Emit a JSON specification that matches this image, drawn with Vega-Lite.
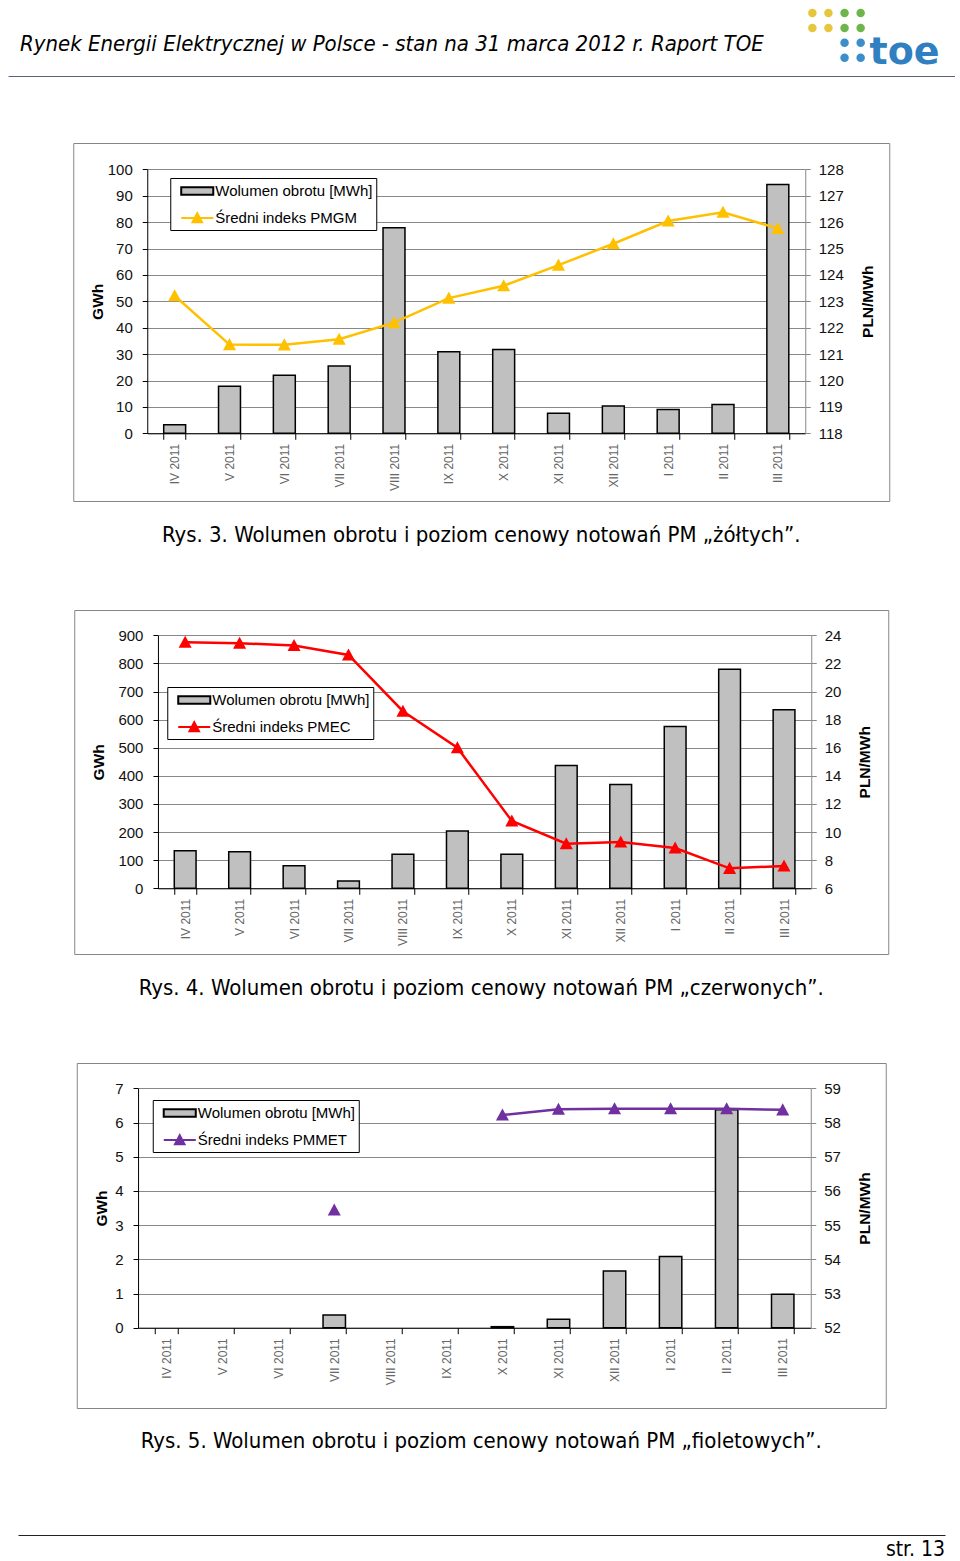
{
"$schema": "https://vega.github.io/schema/vega-lite/v6.json",
"background": "white",
"padding": {"left": 8, "top": 8, "right": 0, "bottom": 0},
"spacing": 62,
"center": true,
"resolve": {"scale": {"fill": "independent", "stroke": "independent", "shape": "independent", "color": "independent"}, "legend": {"fill": "independent", "stroke": "independent", "shape": "independent", "color": "independent"}},
"datasets": {
"d1": [
{"m": "IV 2011", "vol": 3.2, "price": 123.21},
{"m": "V 2011", "vol": 17.8, "price": 121.36},
{"m": "VI 2011", "vol": 22.0, "price": 121.35},
{"m": "VII 2011", "vol": 25.5, "price": 121.56},
{"m": "VIII 2011", "vol": 77.9, "price": 122.19},
{"m": "IX 2011", "vol": 30.9, "price": 123.12},
{"m": "X 2011", "vol": 31.7, "price": 123.59},
{"m": "XI 2011", "vol": 7.6, "price": 124.37},
{"m": "XII 2011", "vol": 10.3, "price": 125.18},
{"m": "I 2011", "vol": 9.0, "price": 126.04},
{"m": "II 2011", "vol": 10.9, "price": 126.37},
{"m": "III 2011", "vol": 94.2, "price": 125.76}
],
"d2": [
{"m": "IV 2011", "vol": 134, "price": 23.5},
{"m": "V 2011", "vol": 130, "price": 23.43},
{"m": "VI 2011", "vol": 80, "price": 23.28},
{"m": "VII 2011", "vol": 26, "price": 22.6},
{"m": "VIII 2011", "vol": 121, "price": 18.6},
{"m": "IX 2011", "vol": 204, "price": 16.0},
{"m": "X 2011", "vol": 121, "price": 10.79},
{"m": "XI 2011", "vol": 437, "price": 9.17},
{"m": "XII 2011", "vol": 369, "price": 9.29},
{"m": "I 2011", "vol": 576, "price": 8.87},
{"m": "II 2011", "vol": 779, "price": 7.42},
{"m": "III 2011", "vol": 635, "price": 7.59}
],
"d3": [
{"m": "IV 2011", "vol": null, "price": null},
{"m": "V 2011", "vol": null, "price": null},
{"m": "VI 2011", "vol": null, "price": null},
{"m": "VII 2011", "vol": 0.37, "price": 55.44},
{"m": "VIII 2011", "vol": null, "price": null},
{"m": "IX 2011", "vol": null, "price": null},
{"m": "X 2011", "vol": 0.03, "price": 58.22},
{"m": "XI 2011", "vol": 0.25, "price": 58.39},
{"m": "XII 2011", "vol": 1.66, "price": 58.40},
{"m": "I 2011", "vol": 2.08, "price": 58.40},
{"m": "II 2011", "vol": 6.37, "price": 58.40},
{"m": "III 2011", "vol": 0.98, "price": 58.37}
],
"logo": [
{"c": 1, "r": 1, "g": "y"}, {"c": 2, "r": 1, "g": "y"}, {"c": 3, "r": 1, "g": "g"}, {"c": 4, "r": 1, "g": "g"},
{"c": 1, "r": 2, "g": "y"}, {"c": 2, "r": 2, "g": "y"}, {"c": 3, "r": 2, "g": "g"}, {"c": 4, "r": 2, "g": "g"},
{"c": 3, "r": 3, "g": "b"}, {"c": 4, "r": 3, "g": "b"},
{"c": 3, "r": 4, "g": "b"}, {"c": 4, "r": 4, "g": "b"}
]
},
"vconcat": [
{
"width": 947, "height": 71,
"view": {"stroke": null},
"title": {"text": "Rynek Energii Elektrycznej w Polsce - stan na 31 marca 2012 r. Raport TOE", "orient": "top", "anchor": "start", "frame": "group", "offset": 0, "dx": 12, "dy": 64, "baseline": "alphabetic", "font": "DejaVu Sans Condensed, Liberation Sans Narrow, DejaVu Sans", "fontStyle": "italic", "fontWeight": "normal", "fontSize": 22, "color": "#000"},
"layer": [
{"data": {"name": "logo"},
"mark": {"type": "circle", "size": 72, "opacity": 1},
"encoding": {
"x": {"field": "c", "type": "quantitative", "scale": {"domain": [-48.96, 9.86], "nice": false, "zero": false}, "axis": {"orient": "bottom", "offset": -4, "labels": false, "ticks": false, "grid": false, "title": null, "domainColor": "#5b6178", "domainWidth": 1}},
"y": {"field": "r", "type": "quantitative", "scale": {"domain": [0.732, 5.497], "reverse": true, "nice": false, "zero": false}, "axis": null},
"color": {"field": "g", "type": "nominal", "scale": {"domain": ["y", "g", "b"], "range": ["#E6C63C", "#6DB54C", "#3C8DCB"]}, "legend": null}
}},
{"data": {"values": [{"label": "toe"}]},
"mark": {"type": "text", "align": "left", "baseline": "alphabetic", "font": "DejaVu Sans", "fontWeight": "bold", "fontSize": 38, "color": "#2F7FC1"},
"encoding": {
"text": {"field": "label"},
"x": {"datum": 4.55, "type": "quantitative"},
"y": {"datum": 4.45, "type": "quantitative"}
}}
]
},
{
"width": 816, "height": 358,
"title": {"text": "Rys. 3. Wolumen obrotu i poziom cenowy notowań PM „żółtych”.", "orient": "bottom", "anchor": "middle", "offset": 24},
"data": {"name": "d1"},
"resolve": {"scale": {"y": "independent"}},
"encoding": {
"x": {"field": "m", "type": "nominal", "sort": null,
"scale": {"domain": ["IV 2011", "V 2011", "VI 2011", "VII 2011", "VIII 2011", "IX 2011", "X 2011", "XI 2011", "XII 2011", "I 2011", "II 2011", "III 2011"], "range": [74, 732], "paddingInner": 0.6, "paddingOuter": 0.3},
"axis": {"offset": -67.7, "title": null, "labelAngle": -90, "tickBand": "extent", "grid": false}}
},
"layer": [
{"mark": {"type": "bar", "fill": "#C0C0C0", "stroke": "#000", "strokeWidth": 1.5},
"encoding": {"y": {"field": "vol", "type": "quantitative",
"scale": {"domain": [0, 100], "range": [290.3, 26.3], "nice": false},
"axis": {"orient": "left", "offset": -74, "values": [0, 10, 20, 30, 40, 50, 60, 70, 80, 90, 100], "grid": true, "title": "GWh", "titlePadding": 2}}}},
{"mark": {"type": "line", "color": "#FFC000", "strokeWidth": 2.5, "point": {"filled": true, "color": "#FFC000", "shape": "M0,-1L1,0.85L-1,0.85Z", "size": 170, "opacity": 1}},
"encoding": {"y": {"field": "price", "type": "quantitative",
"scale": {"domain": [118, 128], "range": [290.3, 26.3], "nice": false, "zero": false},
"axis": {"orient": "right", "offset": -84, "values": [118, 119, 120, 121, 122, 123, 124, 125, 126, 127, 128], "grid": false, "title": "PLN/MWh", "titleAngle": 270, "titlePadding": 32, "domainColor": "#868686", "tickColor": "#868686", "labelPadding": 8}}}},
{"data": {"values": []},
"mark": {"type": "point", "filled": true, "opacity": 1},
"encoding": {
"fill": {"field": "s1", "type": "nominal", "scale": {"domain": ["Wolumen obrotu [MWh]", "Średni indeks PMGM"], "range": ["#C0C0C0", "#FFC000"]},
"legend": {"orient": "none", "legendX": 97, "legendY": 35, "title": null, "direction": "vertical", "fillColor": "#fff", "strokeColor": "#000", "padding": 3, "symbolSize": 324, "symbolOffset": 14, "symbolStrokeWidth": 2, "labelOffset": 8, "rowPadding": 9}},
"stroke": {"field": "s1", "type": "nominal", "scale": {"domain": ["Wolumen obrotu [MWh]", "Średni indeks PMGM"], "range": ["#000000", "#FFC000"]},
"legend": {"orient": "none", "legendX": 97, "legendY": 35, "title": null, "direction": "vertical", "fillColor": "#fff", "strokeColor": "#000", "padding": 3, "symbolSize": 324, "symbolOffset": 14, "symbolStrokeWidth": 2, "labelOffset": 8, "rowPadding": 9}},
"shape": {"field": "s1", "type": "nominal", "scale": {"domain": ["Wolumen obrotu [MWh]", "Średni indeks PMGM"], "range": ["M-1.78,-0.41H1.78V0.41H-1.78Z", "M-1.78,0H1.78M0,-0.53L0.53,0.48H-0.53Z"]},
"legend": {"orient": "none", "legendX": 97, "legendY": 35, "title": null, "direction": "vertical", "fillColor": "#fff", "strokeColor": "#000", "padding": 3, "symbolSize": 324, "symbolOffset": 14, "symbolStrokeWidth": 2, "labelOffset": 8, "rowPadding": 9}}
}}
]
},
{
"width": 814, "height": 344,
"title": {"text": "Rys. 4. Wolumen obrotu i poziom cenowy notowań PM „czerwonych”.", "orient": "bottom", "anchor": "middle", "offset": 24},
"data": {"name": "d2"},
"resolve": {"scale": {"y": "independent"}},
"encoding": {
"x": {"field": "m", "type": "nominal", "sort": null,
"scale": {"domain": ["IV 2011", "V 2011", "VI 2011", "VII 2011", "VIII 2011", "IX 2011", "X 2011", "XI 2011", "XII 2011", "I 2011", "II 2011", "III 2011"], "range": [83.7, 737], "paddingInner": 0.6, "paddingOuter": 0.3},
"axis": {"offset": -65.7, "title": null, "labelAngle": -90, "tickBand": "extent", "grid": false}}
},
"layer": [
{"mark": {"type": "bar", "fill": "#C0C0C0", "stroke": "#000", "strokeWidth": 1.5},
"encoding": {"y": {"field": "vol", "type": "quantitative",
"scale": {"domain": [0, 900], "range": [278.3, 25.3], "nice": false},
"axis": {"orient": "left", "offset": -83.7, "values": [0, 100, 200, 300, 400, 500, 600, 700, 800, 900], "grid": true, "title": "GWh", "titlePadding": 11}}}},
{"mark": {"type": "line", "color": "#FF0000", "strokeWidth": 2.5, "point": {"filled": true, "color": "#FF0000", "shape": "M0,-1L1,0.85L-1,0.85Z", "size": 170, "opacity": 1}},
"encoding": {"y": {"field": "price", "type": "quantitative",
"scale": {"domain": [6, 24], "range": [278.3, 25.3], "nice": false, "zero": false},
"axis": {"orient": "right", "offset": -77, "values": [6, 8, 10, 12, 14, 16, 18, 20, 22, 24], "grid": false, "title": "PLN/MWh", "titleAngle": 270, "titlePadding": 32, "domainColor": "#868686", "tickColor": "#868686", "labelPadding": 8}}}},
{"data": {"values": []},
"mark": {"type": "point", "filled": true, "opacity": 1},
"encoding": {
"fill": {"field": "s2", "type": "nominal", "scale": {"domain": ["Wolumen obrotu [MWh]", "Średni indeks PMEC"], "range": ["#C0C0C0", "#FF0000"]},
"legend": {"orient": "none", "legendX": 93, "legendY": 77, "title": null, "direction": "vertical", "fillColor": "#fff", "strokeColor": "#000", "padding": 3, "symbolSize": 324, "symbolOffset": 14, "symbolStrokeWidth": 2, "labelOffset": 8, "rowPadding": 9}},
"stroke": {"field": "s2", "type": "nominal", "scale": {"domain": ["Wolumen obrotu [MWh]", "Średni indeks PMEC"], "range": ["#000000", "#FF0000"]},
"legend": {"orient": "none", "legendX": 93, "legendY": 77, "title": null, "direction": "vertical", "fillColor": "#fff", "strokeColor": "#000", "padding": 3, "symbolSize": 324, "symbolOffset": 14, "symbolStrokeWidth": 2, "labelOffset": 8, "rowPadding": 9}},
"shape": {"field": "s2", "type": "nominal", "scale": {"domain": ["Wolumen obrotu [MWh]", "Średni indeks PMEC"], "range": ["M-1.78,-0.41H1.78V0.41H-1.78Z", "M-1.78,0H1.78M0,-0.53L0.53,0.48H-0.53Z"]},
"legend": {"orient": "none", "legendX": 93, "legendY": 77, "title": null, "direction": "vertical", "fillColor": "#fff", "strokeColor": "#000", "padding": 3, "symbolSize": 324, "symbolOffset": 14, "symbolStrokeWidth": 2, "labelOffset": 8, "rowPadding": 9}}
}}
]
},
{
"width": 809, "height": 345,
"title": {"text": "Rys. 5. Wolumen obrotu i poziom cenowy notowań PM „fioletowych”.", "orient": "bottom", "anchor": "middle", "offset": 23},
"data": {"name": "d3"},
"resolve": {"scale": {"y": "independent"}},
"encoding": {
"x": {"field": "m", "type": "nominal", "sort": null,
"scale": {"domain": ["IV 2011", "V 2011", "VI 2011", "VII 2011", "VIII 2011", "IX 2011", "X 2011", "XI 2011", "XII 2011", "I 2011", "II 2011", "III 2011"], "range": [61.3, 734], "paddingInner": 0.6, "paddingOuter": 0.3},
"axis": {"offset": -80.3, "title": null, "labelAngle": -90, "tickBand": "extent", "grid": false}}
},
"layer": [
{"mark": {"type": "bar", "fill": "#C0C0C0", "stroke": "#000", "strokeWidth": 1.5},
"encoding": {"y": {"field": "vol", "type": "quantitative",
"scale": {"domain": [0, 7], "range": [264.7, 25.3], "nice": false},
"axis": {"orient": "left", "offset": -61.3, "values": [0, 1, 2, 3, 4, 5, 6, 7], "grid": true, "title": "GWh", "titlePadding": 5}}}},
{"mark": {"type": "line", "color": "#7030A0", "strokeWidth": 2.5, "invalid": "break-paths-filter-domains", "point": {"filled": true, "color": "#7030A0", "shape": "M0,-1L1,0.85L-1,0.85Z", "size": 170, "opacity": 1}},
"encoding": {"y": {"field": "price", "type": "quantitative",
"scale": {"domain": [52, 59], "range": [264.7, 25.3], "nice": false, "zero": false},
"axis": {"orient": "right", "offset": -75, "values": [52, 53, 54, 55, 56, 57, 58, 59], "grid": false, "title": "PLN/MWh", "titleAngle": 270, "titlePadding": 32, "domainColor": "#868686", "tickColor": "#868686", "labelPadding": 8}}}},
{"data": {"values": []},
"mark": {"type": "point", "filled": true, "opacity": 1},
"encoding": {
"fill": {"field": "s3", "type": "nominal", "scale": {"domain": ["Wolumen obrotu [MWh]", "Średni indeks PMMET"], "range": ["#C0C0C0", "#7030A0"]},
"legend": {"orient": "none", "legendX": 76, "legendY": 37, "title": null, "direction": "vertical", "fillColor": "#fff", "strokeColor": "#000", "padding": 3, "symbolSize": 324, "symbolOffset": 14, "symbolStrokeWidth": 2, "labelOffset": 8, "rowPadding": 9}},
"stroke": {"field": "s3", "type": "nominal", "scale": {"domain": ["Wolumen obrotu [MWh]", "Średni indeks PMMET"], "range": ["#000000", "#7030A0"]},
"legend": {"orient": "none", "legendX": 76, "legendY": 37, "title": null, "direction": "vertical", "fillColor": "#fff", "strokeColor": "#000", "padding": 3, "symbolSize": 324, "symbolOffset": 14, "symbolStrokeWidth": 2, "labelOffset": 8, "rowPadding": 9}},
"shape": {"field": "s3", "type": "nominal", "scale": {"domain": ["Wolumen obrotu [MWh]", "Średni indeks PMMET"], "range": ["M-1.78,-0.41H1.78V0.41H-1.78Z", "M-1.78,0H1.78M0,-0.53L0.53,0.48H-0.53Z"]},
"legend": {"orient": "none", "legendX": 76, "legendY": 37, "title": null, "direction": "vertical", "fillColor": "#fff", "strokeColor": "#000", "padding": 3, "symbolSize": 324, "symbolOffset": 14, "symbolStrokeWidth": 2, "labelOffset": 8, "rowPadding": 9}}
}}
]
},
{
"width": 927, "height": 20,
"view": {"stroke": null},
"title": {"text": "str. 13", "orient": "bottom", "anchor": "end", "frame": "group", "offset": 4, "font": "DejaVu Sans Condensed, Liberation Sans Narrow, DejaVu Sans", "fontSize": 21, "fontWeight": "normal", "color": "#000"},
"data": {"values": []},
"mark": {"type": "point"},
"encoding": {
"x": {"field": "v", "type": "quantitative", "scale": {"domain": [0, 1], "nice": false}, "axis": {"orient": "bottom", "labels": false, "ticks": false, "grid": false, "title": null, "domainColor": "#222", "domainWidth": 1.2}}
}
}
],
"config": {
"view": {"stroke": "#868686", "strokeWidth": 1},
"axis": {"labelFont": "Liberation Sans", "titleFont": "Liberation Sans", "labelFontSize": 15, "labelColor": "#111", "titleFontSize": 15.5, "titleFontWeight": "bold", "titleColor": "#000", "domainColor": "#000", "tickColor": "#000", "tickSize": 5, "labelPadding": 10, "gridColor": "#888", "gridWidth": 1, "domainWidth": 1, "tickWidth": 1},
"axisX": {"labelFontSize": 12, "labelColor": "#666", "tickSize": 6, "labelPadding": 4},
"legend": {"labelFont": "Liberation Sans", "labelFontSize": 15, "labelColor": "#000", "symbolOpacity": 1},
"title": {"font": "DejaVu Sans Condensed, Liberation Sans Narrow, DejaVu Sans", "fontSize": 22, "fontWeight": "normal", "color": "#000"}
}
}
